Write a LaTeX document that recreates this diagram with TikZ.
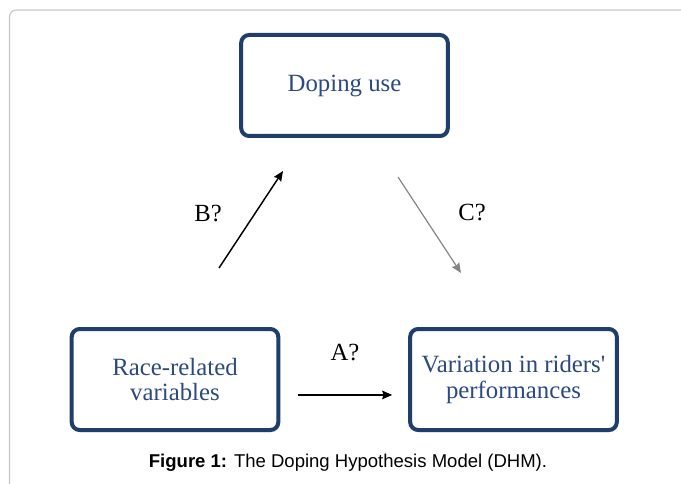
\documentclass[tikz,border=0pt]{standalone}
\usepackage{fontspec}
\setmainfont{Liberation Serif}
\newfontfamily\rawserif{Liberation Serif}
\newfontfamily\capfont{Liberation Sans}
\usetikzlibrary{arrows.meta,shadows}
\definecolor{boxblue}{HTML}{1F3E6C}
\definecolor{txtblue}{HTML}{2B4A7E}
\definecolor{framegray}{HTML}{C8C8C8}
\definecolor{arrgray}{HTML}{858585}
\tikzset{
  varbox/.style={draw=boxblue, line width=3pt, rounded corners=6pt, fill=white,
    minimum width=155pt, minimum height=75.75pt, inner sep=0pt, align=center,
    text=txtblue, font=\fontsize{18.6}{19}\selectfont,
    drop shadow={shadow xshift=0.9pt, shadow yshift=-1.5pt, opacity=0.35}},
  qlabel/.style={font=\fontsize{18.5}{19}\selectfont, text=black, inner sep=0pt},
  conn/.style={line width=1.1pt, -{Stealth[length=7.5pt,width=6.5pt,inset=1pt]}},
  conngray/.style={conn, draw=arrgray, line width=0.9pt, -{Stealth[length=7.5pt,width=6.5pt,inset=1pt,fill=arrgray]}}
}
\begin{document}
\begin{tikzpicture}[x=0.75pt,y=-0.75pt]
\useasboundingbox (0,0) rectangle (681,484);
\begin{scope}
\clip (0,0) rectangle (681,484);
\draw[framegray, line width=0.9pt, rounded corners=5pt] (9.5,10) rectangle (720,520);
\end{scope}
\node[varbox] (dop) at (344.5,85.5) {Doping use};
\node[varbox] (race) at (175,379.5) {Race-related\\variables};
\node[varbox] (perf) at (513.5,379.5) {Variation in riders{\rawserif'}\\performances};
\coordinate (bS) at (219,268);
\coordinate (bE) at (283,171);
\coordinate (cS) at (398,177);
\coordinate (cE) at (461,273);
\draw[conn] (bS) -- (bE);
\draw[conngray] (cS) -- (cE);
\draw[conn] ([yshift=-11.6pt,xshift=13.5pt]race.east) -- ([yshift=-11.6pt,xshift=-12pt]perf.west);
\node[qlabel] (lb) at (208,214) {B?};
\node[qlabel] (lc) at (472,213) {C?};
\node[qlabel] (la) at (345,353) {A?};
\node[font=\capfont\fontsize{13.9}{15}\selectfont, inner sep=0pt] (cap) at (348,463) {\textbf{Figure 1:} The Doping Hypothesis Model (DHM).};
\end{tikzpicture}
\end{document}
